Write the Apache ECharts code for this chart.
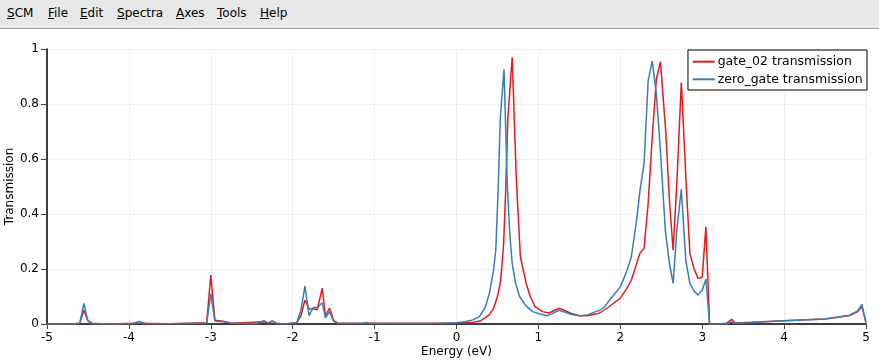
<!DOCTYPE html>
<html>
<head>
<meta charset="utf-8">
<script src="https://cdn.jsdelivr.net/npm/echarts@6/dist/echarts.min.js"></script>
<style>
  html, body { margin: 0; padding: 0; width: 879px; height: 362px; overflow: hidden; background: #fff; font-family: "DejaVu Sans", sans-serif; }
  #menu { position: absolute; left: 0; top: 0; width: 879px; height: 28px; background: #e8e8e8; border-bottom: 1px solid #a0a0a0; }
  #menu span { position: absolute; top: 6px; font-size: 12px; color: #000; }
  #menu u { text-decoration: underline; }
  #chart { position: absolute; left: 0; top: 29px; width: 879px; height: 333px; }
</style>
</head>
<body>
<div id="menu">
  <span style="left:7px"><u>S</u>CM</span>
  <span style="left:48px"><u>F</u>ile</span>
  <span style="left:80px"><u>E</u>dit</span>
  <span style="left:117px"><u>S</u>pectra</span>
  <span style="left:176px"><u>A</u>xes</span>
  <span style="left:217px"><u>T</u>ools</span>
  <span style="left:260px"><u>H</u>elp</span>
</div>
<div id="chart"></div>
<script>
const seriesNames = ["gate_02 transmission", "zero_gate transmission"];

const gateE = [-5, -4.7, -4.6, -4.55, -4.5, -4.45, -4.3, -3.9, -3.5, -3.05, -3.0, -2.95, -2.85, -2.75,
  -2.35, -2.3, -2.25, -2.2, -2.1, -1.95, -1.9, -1.85, -1.8, -1.75, -1.7, -1.64, -1.6, -1.55, -1.5, -1.45,
  -1.1, 0, 0.2, 0.3, 0.4, 0.45, 0.5, 0.54, 0.575, 0.6, 0.627, 0.68, 0.73, 0.78, 0.85, 0.9, 0.96, 1.05,
  1.13, 1.2, 1.25, 1.3, 1.4, 1.5, 1.6, 1.7, 1.75, 1.85, 2.0, 2.07, 2.135, 2.2, 2.24, 2.29, 2.34, 2.39,
  2.44, 2.49, 2.555, 2.6, 2.645, 2.69, 2.745, 2.81, 2.85, 2.9, 2.95, 3.0, 3.045, 3.09, 3.2, 3.3, 3.36,
  3.4, 3.6, 4.0, 4.5, 4.8, 4.9, 4.95, 5.0];
const gateT = [0, 0, 0.003, 0.05, 0.012, 0.003, 0, 0.003, 0.001, 0.005, 0.178, 0.014, 0.01, 0.003,
  0.008, 0.003, 0.01, 0.003, 0, 0.005, 0.03, 0.087, 0.055, 0.055, 0.052, 0.13, 0.03, 0.058, 0.012, 0.003,
  0.003, 0.003, 0.006, 0.012, 0.033, 0.055, 0.1, 0.16, 0.29, 0.48, 0.75, 0.97, 0.53, 0.245, 0.148, 0.1, 0.063, 0.045,
  0.04, 0.05, 0.057, 0.052, 0.038, 0.03, 0.03, 0.036, 0.04, 0.06, 0.094, 0.125, 0.16, 0.22, 0.257, 0.275, 0.438, 0.68,
  0.89, 0.954, 0.70, 0.45, 0.268, 0.51, 0.878, 0.475, 0.257, 0.2, 0.166, 0.17, 0.353, 0, 0, 0.003, 0.017,
  0.004, 0.006, 0.012, 0.018, 0.031, 0.045, 0.063, 0.005];

const zeroE = [-5, -4.7, -4.6, -4.55, -4.5, -4.45, -4.3, -3.95, -3.88, -3.8, -3.5, -3.05, -3.0, -2.95,
  -2.85, -2.75, -2.45, -2.35, -2.3, -2.25, -2.2, -2.1, -1.95, -1.9, -1.85, -1.8, -1.75, -1.7, -1.64, -1.6,
  -1.55, -1.5, -1.45, -1.3, -1.15, -1.1, -1.05, -0.5, -0.2, 0, 0.1, 0.2, 0.28, 0.35, 0.4, 0.45, 0.48,
  0.51, 0.535, 0.58, 0.62, 0.65, 0.68, 0.72, 0.77, 0.85, 0.93, 1.0, 1.1, 1.15, 1.25, 1.3, 1.4, 1.5, 1.6,
  1.7, 1.75, 1.8, 1.87, 2.0, 2.07, 2.135, 2.2, 2.24, 2.29, 2.34, 2.39, 2.44, 2.49, 2.55, 2.6, 2.645,
  2.69, 2.745, 2.8, 2.85, 2.9, 2.95, 3.0, 3.045, 3.09, 3.3, 3.35, 3.4, 3.6, 4.0, 4.5, 4.8, 4.9, 4.95, 5.0];
const zeroT = [0, 0, 0.003, 0.075, 0.01, 0.002, 0, 0.002, 0.009, 0.002, 0.001, 0.003, 0.11, 0.01,
  0.008, 0.003, 0.002, 0.012, 0.004, 0.011, 0.003, 0, 0.005, 0.05, 0.138, 0.03, 0.06, 0.06, 0.077, 0.022,
  0.045, 0.01, 0.003, 0.002, 0.002, 0.006, 0.002, 0.002, 0.003, 0.005, 0.008, 0.015, 0.027, 0.06, 0.11, 0.19, 0.27,
  0.5, 0.75, 0.926, 0.51, 0.33, 0.22, 0.15, 0.1, 0.065, 0.045, 0.038, 0.03, 0.035, 0.05, 0.045, 0.035, 0.03, 0.033,
  0.045, 0.05, 0.06, 0.087, 0.135, 0.185, 0.244, 0.38, 0.485, 0.583, 0.884, 0.957, 0.836, 0.63, 0.34, 0.22, 0.148,
  0.34, 0.49, 0.23, 0.148, 0.12, 0.105, 0.123, 0.163, 0, 0, 0.007, 0.003, 0.005, 0.012, 0.018, 0.032, 0.048, 0.071, 0.005];

const pairs = (xs, ys) => xs.map((x, i) => [x, ys[i]]);

const chart = echarts.init(document.getElementById('chart'), null, { renderer: 'canvas' });
const font = "DejaVu Sans";
chart.setOption({
  animation: false,
  textStyle: { fontFamily: font },
  grid: { left: 47, right: 13, top: 20, bottom: 38, containLabel: false, outerBoundsMode: 'none' },
  legend: {
    data: seriesNames,
    orient: 'vertical',
    right: 12,
    top: 21,
    backgroundColor: '#fff',
    borderColor: '#000',
    borderWidth: 1,
    padding: [4.7, 4.3, 3.7, 4.7],
    itemGap: 3.6,
    itemWidth: 22,
    itemHeight: 2,
    icon: 'rect',
    textStyle: { fontFamily: font, fontSize: 12.5, lineHeight: 14, color: '#000', padding: [0, 0, 0, -2] }
  },
  xAxis: {
    type: 'value', min: -5, max: 5, interval: 1,
    name: 'Energy (eV)', nameLocation: 'middle', nameGap: 22, nameMoveOverlap: false,
    nameTextStyle: { fontFamily: font, fontSize: 12, color: '#000' },
    axisLine: { show: true, onZero: false, lineStyle: { color: '#000', width: 1.5 } },
    axisTick: { show: true, inside: false, length: 5, lineStyle: { color: '#444' } },
    axisLabel: { fontFamily: font, fontSize: 12, color: '#000', margin: 8 },
    splitLine: { show: true, lineStyle: { color: '#eeeeee', width: 1 } }
  },
  yAxis: {
    type: 'value', min: 0, max: 1, interval: 0.2,
    name: 'Transmission', nameLocation: 'middle', nameGap: 31, nameMoveOverlap: false,
    nameTextStyle: { fontFamily: font, fontSize: 12, color: '#000' },
    axisLine: { show: true, onZero: false, lineStyle: { color: '#000', width: 1.5 } },
    axisTick: { show: true, inside: false, length: 6, lineStyle: { color: '#444' } },
    axisLabel: { fontFamily: font, fontSize: 12, color: '#000', margin: 8 },
    splitLine: { show: true, lineStyle: { color: '#eeeeee', width: 1 } }
  },
  series: [
    { name: seriesNames[0], type: 'line', data: pairs(gateE, gateT), symbol: 'none', color: '#e41a1c', lineStyle: { width: 1.5, color: '#e41a1c' }, z: 2 },
    { name: seriesNames[1], type: 'line', data: pairs(zeroE, zeroT), symbol: 'none', color: '#377eb8', lineStyle: { width: 1.5, color: '#377eb8' }, z: 3 }
  ]
});
</script>
</body>
</html>
